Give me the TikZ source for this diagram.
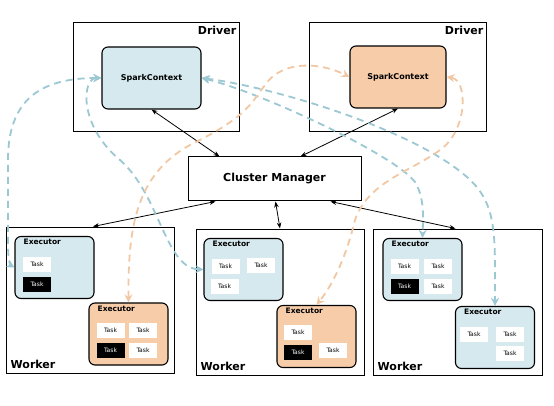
\documentclass[tikz,border=0pt]{standalone}
\usepackage{fontspec}
\setmainfont{DejaVu Sans}
\usetikzlibrary{arrows.meta,positioning,calc}
\definecolor{ctxblue}{HTML}{D6E9EE}
\definecolor{ctxpeach}{HTML}{F6CCA9}
\definecolor{dashblue}{HTML}{9CC8D3}
\definecolor{dashpeach}{HTML}{F2C8A4}

\begin{document}
\begin{tikzpicture}[x=1pt, y=-1pt,
    box/.style={draw, line width=1pt, inner sep=0pt},
    ctx/.style={draw, line width=1.1pt, rounded corners=6pt, inner sep=0pt,
        font=\bfseries\fontsize{8}{9}\selectfont},
    exec/.style={draw, line width=1.1pt, rounded corners=6pt, inner sep=0pt,
        minimum width=79pt, minimum height=62pt,
        label={[anchor=north west, xshift=8pt, yshift=-2pt, inner sep=1pt,
            font=\bfseries\fontsize{7.5}{8}\selectfont]north west:Executor}},
    task/.style={fill=white, inner sep=0pt, minimum width=28pt, minimum height=15pt,
        font=\fontsize{6}{7}\selectfont},
    taskon/.style={task, fill=black, text=white},
    title/.style={font=\bfseries\fontsize{11}{12}\selectfont, inner sep=3pt},
    ctrl/.style={line width=0.8pt, {Stealth[length=6pt,width=4.5pt]}-{Stealth[length=6pt,width=4.5pt]}},
    bluedash/.style={dashblue, line width=1.8pt, dash pattern=on 7pt off 5pt,
        {Stealth[length=8pt,width=8pt]}-{Stealth[length=8pt,width=8pt]}},
    peachdash/.style={dashpeach, line width=1.8pt, dash pattern=on 7pt off 5pt,
        {Stealth[length=8pt,width=8pt]}-{Stealth[length=8pt,width=8pt]}}
]
    \fill[white] (0,0) rectangle (554,406);
    \useasboundingbox (0,0) rectangle (554,406);

    % Drivers
    \node[box, minimum width=166pt, minimum height=109pt] (drvL) at (156,77.5) {};
    \node[title, anchor=north east] at (drvL.north east) {Driver};
    \node[ctx, fill=ctxblue, minimum width=99pt, minimum height=62pt] (scL) at (151.5,78) {SparkContext};

    \node[box, minimum width=177pt, minimum height=109pt] (drvR) at (397.5,77.5) {};
    \node[title, anchor=north east] at (drvR.north east) {Driver};
    \node[ctx, fill=ctxpeach, minimum width=96pt, minimum height=62pt] (scR) at (398,77) {SparkContext};

    % Cluster manager
    \node[box, minimum width=173pt, minimum height=44pt, title] (cm) at (274.5,179) {Cluster Manager};

    % Workers
    \node[box, minimum width=168pt, minimum height=146pt] (wL) at (90,300) {};
    \node[box, minimum width=168pt, minimum height=146pt] (wM) at (280,302) {};
    \node[box, minimum width=169pt, minimum height=146pt] (wR) at (457.5,302) {};
    \foreach \w in {wL,wM,wR}
        \node[title, anchor=south west, xshift=2pt, yshift=2pt] at (\w.south west) {Worker};

    % Executors
    \node[exec, fill=ctxblue] (exLa) at (54.5,267.5) {};
    \node[exec, fill=ctxpeach] (exLb) at (128.5,334) {};
    \node[exec, fill=ctxblue] (exMa) at (243.5,269.5) {};
    \node[exec, fill=ctxpeach] (exMb) at (316.5,336.5) {};
    \node[exec, fill=ctxblue] (exRa) at (422.5,269.5) {};
    \node[exec, fill=ctxblue] (exRb) at (495,337.5) {};

    % Tasks
    \node[task] (tLa1) at (37,264.5) {Task};
    \node[taskon] (tLa2) at (37,284.5) {Task};
    \node[task] (tLb1) at (110.5,330) {Task};
    \node[task] (tLb2) at (143,330) {Task};
    \node[taskon] (tLb3) at (110.5,350.5) {Task};
    \node[task] (tLb4) at (143,350.5) {Task};
    \node[task] (tMa1) at (225.5,266) {Task};
    \node[task] (tMa2) at (261,265) {Task};
    \node[task] (tMa3) at (224.5,286) {Task};
    \node[task] (tMb1) at (298,332) {Task};
    \node[taskon] (tMb2) at (298,352.5) {Task};
    \node[task] (tMb3) at (333,350.5) {Task};
    \node[task] (tRa1) at (404.5,266) {Task};
    \node[task] (tRa2) at (438,266) {Task};
    \node[taskon] (tRa3) at (404.5,286.5) {Task};
    \node[task] (tRa4) at (438,286.5) {Task};
    \node[task] (tRb1) at (474,334) {Task};
    \node[task] (tRb2) at (510,334) {Task};
    \node[task] (tRb3) at (510,353) {Task};

    % Cluster manager links
    \draw[ctrl] (scL.south) -- ([xshift=-55pt]cm.north);
    \draw[ctrl] (scR.south) -- ([xshift=26pt]cm.north);
    \draw[ctrl] ([xshift=-59pt]cm.south) -- ([xshift=3pt]wL.north);
    \draw[ctrl] ([xshift=1pt]cm.south) -- (wM.north);
    \draw[ctrl] ([xshift=56pt]cm.south) -- ([xshift=-2pt]wR.north);

    % Driver <-> executor traffic (blue app)
    \draw[bluedash] (scL.west) .. controls (40,78) and (8,100) .. (8,160)
        -- (8,245) .. controls (8,258) and (10,265) .. (exLa.west);
    \draw[bluedash] (scL.west) .. controls (82,78) and (78,125) .. (120,160)
        .. controls (160,195) and (165,268) .. (exMa.west);
    \draw[bluedash] (scL.east) .. controls (260,92) and (395,155) .. (415,182)
        .. controls (425,198) and (423,220) .. (exRa.north);
    \draw[bluedash] (scL.east) .. controls (280,88) and (430,135) .. (475,185)
        .. controls (497,210) and (495,240) .. (exRb.north);

    % Driver <-> executor traffic (peach app)
    \draw[peachdash] (exLb.north) .. controls (128,230) and (135,175) .. (190,145)
        .. controls (245,118) and (250,105) .. (265,85)
        .. controls (282,60) and (320,62) .. (scR.west);
    \draw[peachdash] (scR.east) .. controls (468,80) and (468,130) .. (440,150)
        .. controls (410,172) and (368,182) .. (355,220)
        .. controls (345,262) and (330,288) .. (exMb.north);

\end{tikzpicture}
\end{document}
